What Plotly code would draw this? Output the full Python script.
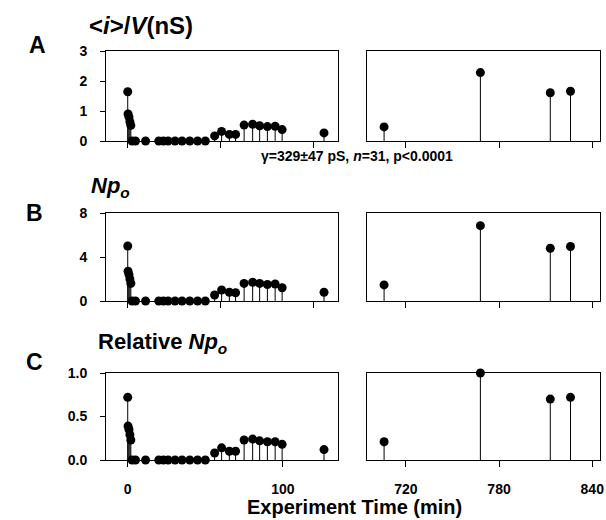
import numpy as np
import plotly.graph_objects as go

# ---- data ----
time_min = [0, 0.2, 0.8, 1.4, 2.0,
            2.8, 5.0, 11.5, 20, 23, 26, 30.5, 35, 40, 45, 50,
            56, 60.5, 65.5, 69.5, 75, 80.5, 85, 90, 95, 99.5, 126.5,
            706, 768, 813, 826]
conductance_nS = [1.64, 0.90, 0.80, 0.64, 0.52,
                  0, 0, 0, 0, 0, 0, 0, 0, 0, 0, 0,
                  0.17, 0.32, 0.22, 0.22, 0.53, 0.56, 0.51, 0.48, 0.49, 0.38, 0.27,
                  0.47, 2.28, 1.61, 1.66]
npo = [5.0, 2.7, 2.4, 2.0, 1.6,
       0, 0, 0, 0, 0, 0, 0, 0, 0, 0, 0,
       0.55, 1.0, 0.8, 0.75, 1.6, 1.7, 1.6, 1.5, 1.55, 1.2, 0.8,
       1.46, 6.85, 4.8, 4.95]
relative_npo = [0.72, 0.39, 0.35, 0.29, 0.23,
                0, 0, 0, 0, 0, 0, 0, 0, 0, 0, 0,
                0.08, 0.14, 0.10, 0.10, 0.23, 0.24, 0.22, 0.21, 0.21, 0.18, 0.12,
                0.21, 1.0, 0.70, 0.72]

left_range = [-14, 135.5]
right_range = [695, 845]

panel_ticks_A = [0, 1, 2, 3]
panel_ticks_B = [0, 4, 8]
panel_ticks_C = [0.0, 0.5, 1.0]

W, H = 606, 520
def px(x):
    return x / W
def py(y):
    return 1 - y / H

FONT = "Liberation Sans, Arial, Helvetica, sans-serif"

t = np.array(time_min)
fig = go.Figure()

panels = [
    (np.array(conductance_nS), [0, 3], panel_ticks_A, (51, 141), "", False),
    (np.array(npo), [0, 8], panel_ticks_B, (213, 301), "", False),
    (np.array(relative_npo), [0, 1.0], panel_ticks_C, (373, 460), ".1f", True),
]

layout = {}
k = 0
for vals, yr, yt, (ytop, ybot), yfmt, bottom in panels:
    for side in ("left", "right"):
        k += 1
        sfx = "" if k == 1 else str(k)
        if side == "left":
            mask = t < 300
            xdom = [px(106), px(338)]
            xr = left_range
            xt = [0, 100] if bottom else [0, 60, 120]
        else:
            mask = t >= 300
            xdom = [px(367), px(600)]
            xr = right_range
            xt = [720, 780, 840]
        xv = t[mask]
        yv = vals[mask]
        fig.add_trace(go.Scatter(
            x=xv, y=yv, mode="markers",
            marker=dict(size=9, color="black"),
            error_y=dict(type="data", symmetric=False, array=[0] * len(yv),
                         arrayminus=yv, width=0, thickness=1, color="black"),
            cliponaxis=False, showlegend=False,
            xaxis="x" + sfx, yaxis="y" + sfx,
        ))
        layout["xaxis" + sfx] = dict(
            domain=xdom, range=xr, anchor="y" + sfx, automargin=False,
            showline=True, linecolor="black", linewidth=1, mirror=True,
            showgrid=False, zeroline=False,
            ticks="outside", ticklen=6, tickcolor="black", tickwidth=1,
            tickvals=xt, showticklabels=bottom,
            tickfont=dict(family=FONT, size=14, color="black", weight="bold"),
            ticklabelstandoff=10,
        )
        layout["yaxis" + sfx] = dict(
            domain=[py(ybot), py(ytop)], range=yr, anchor="x" + sfx, automargin=False,
            showline=True, linecolor="black", linewidth=1, mirror=True,
            showgrid=False, zeroline=False,
            ticks="outside" if side == "left" else "",
            ticklen=5, tickcolor="black", tickwidth=1,
            tickvals=yt, showticklabels=(side == "left"),
            tickformat=yfmt,
            tickfont=dict(family=FONT, size=14, color="black", weight="bold"),
            ticklabelstandoff=10,
        )

def ann(text, x, y, size, xanchor="left"):
    return dict(text=text, x=px(x), y=py(y), xref="paper", yref="paper",
                xanchor=xanchor, yanchor="middle", showarrow=False, align="left",
                font=dict(family=FONT, size=size, color="black"))

annotations = [
    ann("<b>A</b>", 27, 45, 23),
    ann("<b>B</b>", 24, 213, 23),
    ann("<b>C</b>", 24, 362, 23),
    ann("<b>&lt;<i>i</i>&gt;/<i>V</i>(nS)</b>", 87, 25, 24),
    ann("<b><i>Np<sub>o</sub></i></b>", 89, 187, 22),
    ann("<b>Relative <i>Np<sub>o</sub></i></b>", 96, 343, 22),
    ann("<b>γ=329±47 pS, <i>n</i>=31, p&lt;0.0001</b>", 259, 156, 14),
    ann("<b>Experiment Time (min)</b>", 354, 507, 20, xanchor="center"),
]

fig.update_layout(
    width=W, height=H,
    margin=dict(l=0, r=0, t=0, b=0, autoexpand=False),
    paper_bgcolor="white", plot_bgcolor="white",
    annotations=annotations,
    **layout,
)

fig.write_html("out.html", config={"displayModeBar": False},
               post_script="document.body.style.margin='0px';")
